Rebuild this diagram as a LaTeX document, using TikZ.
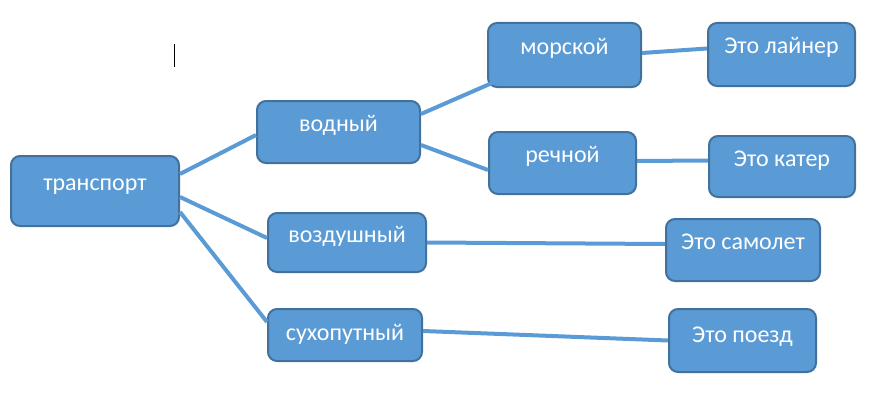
\documentclass[tikz,border=0pt]{standalone}
\usepackage{fontspec}
\setmainfont{Carlito}
\usepackage{xcolor}
\usepackage{tikz}
\usetikzlibrary{calc}
\usetikzlibrary{positioning}

\definecolor{boxfill}{HTML}{5B9BD5}
\definecolor{boxline}{HTML}{41719C}

\tikzset{
  box/.style={draw=boxline, line width=2pt, fill=boxfill, rounded corners=9pt,
    text=white, font=\fontsize{24}{28}\selectfont, inner sep=0pt,
    text height=14pt, text depth=15pt},
  link/.style={draw=boxfill, line width=4pt}
}

\begin{document}
\begin{tikzpicture}[x=1pt, y=-1pt]
\useasboundingbox (0,0) rectangle (888,404);

\node[box, minimum width=168pt, minimum height=70pt] (1) at (95,191) {транспорт};
\node[box, minimum width=163pt, minimum height=62pt] (2) at (338.5,132) {водный};
\node[box, minimum width=153pt, minimum height=64pt] (3) at (564.5,55) {морской};
\node[box, minimum width=147pt, minimum height=63pt] (4) at (781.5,54.5) {Это лайнер};
\node[box, minimum width=147pt, minimum height=62pt] (5) at (562.5,163) {речной};
\node[box, minimum width=146pt, minimum height=61pt] (6) at (782,166.5) {Это катер};
\node[box, minimum width=158pt, minimum height=59pt] (7) at (347,242.5) {воздушный};
\node[box, minimum width=154pt, minimum height=62pt] (8) at (743,250) {Это самолет};
\node[box, minimum width=154pt, minimum height=52pt, text height=20pt, text depth=9pt] (9) at (345,335) {сухопутный};
\node[box, minimum width=147pt, minimum height=63pt, text height=16pt, text depth=12pt] (10) at (742.5,340.5) {Это поезд};

\path[link] ([yshift=17pt]1.east) -- ([yshift=-3pt]2.west);
\path[link] ([yshift=-6pt]1.east) -- ([yshift=4.5pt]7.west);
\path[link] ([yshift=-21pt]1.east) -- ([yshift=13pt]9.west);
\path[link] ([yshift=18pt]2.east) -- ([shift={(5pt,5pt)}]3.south west);
\path[link] ([yshift=-13pt]2.east) -- ([yshift=-7pt]5.west);
\path[link] ([yshift=2pt]3.east) -- ([yshift=6pt]4.west);
\path[link] ([yshift=2pt]5.east) -- ([yshift=6pt]6.west);
\path[link] (7.east) -- ([yshift=6pt]8.west);
\path[link] ([yshift=4pt]9.east) -- (10.west);

% cursor mark
\draw[line width=1pt] (174.5,44) -- (174.5,67);

\end{tikzpicture}
\end{document}
